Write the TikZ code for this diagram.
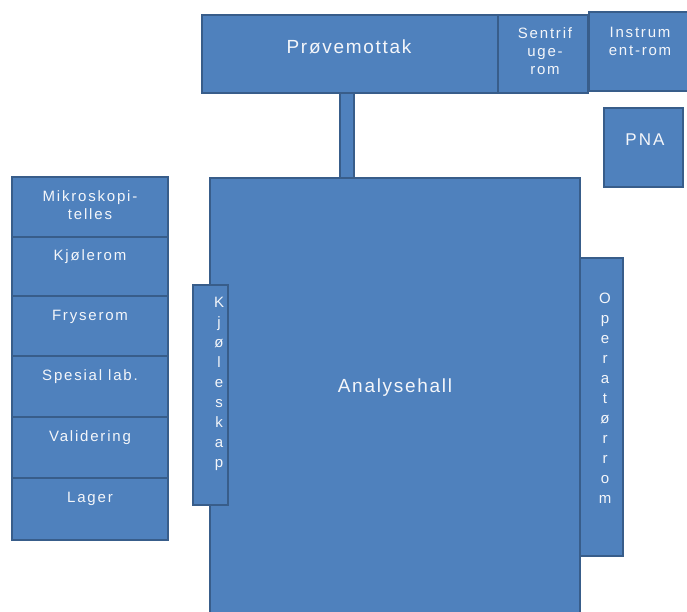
\documentclass[tikz,border=0pt]{standalone}
\usepackage{fontspec}
\setmainfont{Liberation Sans}[LetterSpace=12]
\newfontfamily\bigfont{Liberation Sans}[LetterSpace=9]
\definecolor{fillb}{HTML}{4F81BD}
\definecolor{edgeb}{HTML}{385D8A}
\definecolor{txtc}{HTML}{F4F6FA}
\tikzset{
  room/.style={draw=edgeb, fill=fillb, line width=2pt, inner sep=0pt, outer sep=0pt, anchor=north west, rectangle},
  txt/.style={text=txtc, font=\fontsize{15}{18}\selectfont, inner sep=0pt, align=center},
  big/.style={txt, font=\bigfont\fontsize{19}{22}\selectfont},
  vert/.style={txt, font=\fontsize{15}{20}\selectfont},
  passage/.style={draw=edgeb, line width=2pt, double=fillb, double distance=12pt},
}
\begin{document}
\begin{tikzpicture}[x=1pt,y=-1pt]
\useasboundingbox (0,0) rectangle (687,612);
% top rooms
\node[room, minimum width=296, minimum height=78] (prove) at (202,15) {};
\node[room, minimum width=310, minimum height=450] (hallstub) at (240,178) {};
\coordinate (gx) at (347,0);
\draw[passage] (gx |- prove.south) -- (gx |- hallstub.north);
\node[room, minimum width=296, minimum height=78] (prove2) at (202,15) {};
\node[room, minimum width=90, minimum height=78] (sentri) at (498,15) {};
\node[room, minimum width=110, minimum height=79] (instr) at (589,12) {};
\node[room, minimum width=79, minimum height=79] (pna) at (604,108) {};
% hall
\node[room, minimum width=370, minimum height=450] (hall) at (210,178) {};
\node[room, minimum width=35, minimum height=220] (kjol) at (193,285) {};
\node[room, minimum width=43, minimum height=298] (oper) at (580,258) {};
% left column
\node[room, minimum width=156, minimum height=60] (mik) at (12,177) {};
\node[room, minimum width=156, minimum height=59] (kjr) at (12,237) {};
\node[room, minimum width=156, minimum height=60] (fry) at (12,296) {};
\node[room, minimum width=156, minimum height=61] (spe) at (12,356) {};
\node[room, minimum width=156, minimum height=61] (val) at (12,417) {};
\node[room, minimum width=156, minimum height=62] (lag) at (12,478) {};
% texts
\node[big] (tprove) at (349,47) {Prøvemottak};
\node[txt, font=\fontsize{15}{18}\selectfont] (tsentri) at (545,51) {Sentrif\\uge-\\rom};
\node[txt] (tinstr) at (640,41) {Instrum\\ent-rom};
\node[txt, font=\fontsize{17}{20}\selectfont, text height=12pt, text depth=0pt] (tpna) at (645,140) {PNA};
\node[big] (thall) at (395,388) {Analysehall};
\node[vert] (tkjol) at (219,384) {K\\j\\ø\\l\\e\\s\\k\\a\\p};
\node[vert] (toper) at (605,398) {O\\p\\e\\r\\a\\t\\ø\\r\\r\\o\\m};
\node[txt] (tmik) at (90,205) {Mikroskopi-\\telles};
\node[txt, text height=11pt, text depth=3pt] (tkjr) at (90,256) {Kjølerom};
\node[txt, text height=11pt, text depth=3pt] (tfry) at (90,316) {Fryserom};
\node[txt, text height=11pt, text depth=3pt] (tspe) at (90,376) {Spesial lab.};
\node[txt, text height=11pt, text depth=3pt] (tval) at (90,437) {Validering};
\node[txt, text height=11pt, text depth=3pt] (tlag) at (90,498) {Lager};
\end{tikzpicture}
\end{document}
